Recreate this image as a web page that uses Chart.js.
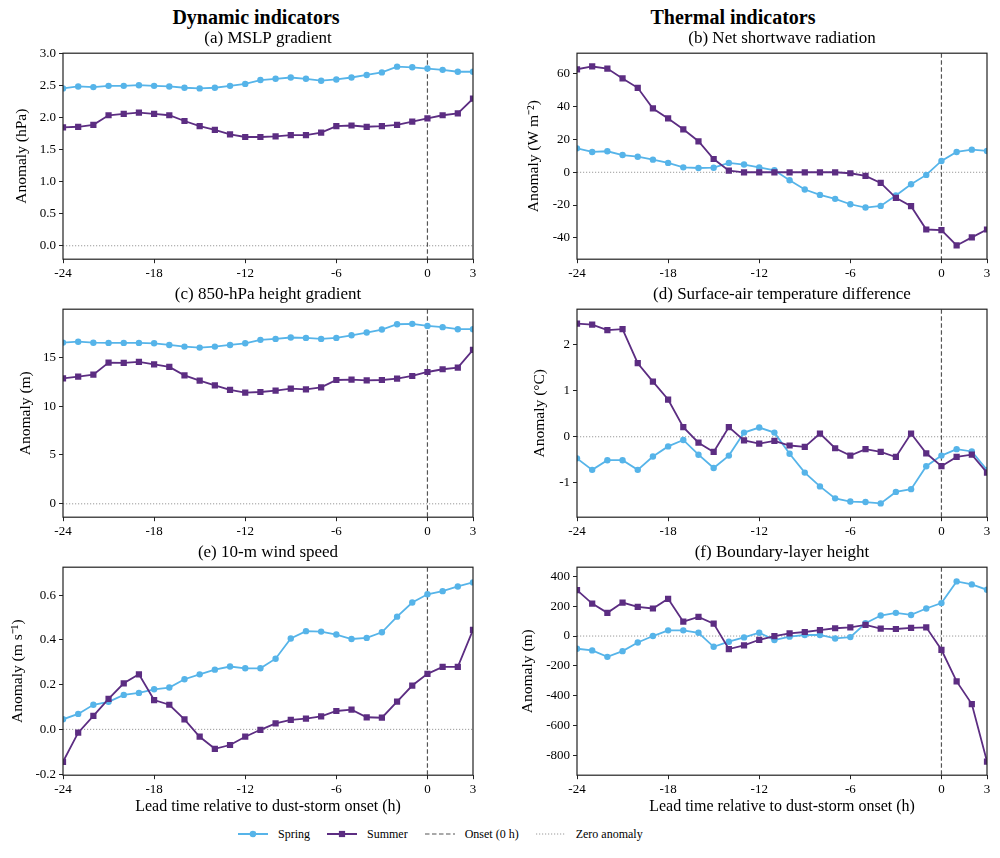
<!DOCTYPE html>
<html>
<head>
<meta charset="utf-8">
<title>Dust-storm precursor anomalies</title>
<script src="https://cdn.jsdelivr.net/npm/chart.js@4.4.1/dist/chart.umd.min.js"></script>
<style>
  body {
    margin: 0;
    width: 1000px;
    height: 858px;
    position: relative;
    overflow: hidden;
    background: #fff;
    color: #000;
    font-family: "Liberation Serif", "Times New Roman", serif;
  }
  .panel { position: absolute; }
  .header {
    position: absolute;
    top: 6px;
    font-size: 20px;
    line-height: 22px;
    font-weight: bold;
    white-space: nowrap;
    transform: translateX(-50%);
  }
  .legend {
    position: absolute;
    left: 238px;
    top: 825px;
    height: 18px;
    display: flex;
    align-items: center;
    font-size: 12px;
    white-space: nowrap;
  }
  .legend .item { display: flex; align-items: center; margin-right: 17px; }
  .legend svg { margin-right: 10px; }
</style>
</head>
<body>
<div class="header" style="left:256px">Dynamic indicators</div>
<div class="header" style="left:733px">Thermal indicators</div>

<div class="panel" id="boxA"><canvas id="chartA"></canvas></div>
<div class="panel" id="boxB"><canvas id="chartB"></canvas></div>
<div class="panel" id="boxC"><canvas id="chartC"></canvas></div>
<div class="panel" id="boxD"><canvas id="chartD"></canvas></div>
<div class="panel" id="boxE"><canvas id="chartE"></canvas></div>
<div class="panel" id="boxF"><canvas id="chartF"></canvas></div>

<div class="legend">
  <div class="item">
    <svg width="30" height="10"><line x1="0" y1="5" x2="30" y2="5" stroke="#56b4e9" stroke-width="2"/><circle cx="15" cy="5" r="3.3" fill="#56b4e9"/></svg>
    <span>Spring</span>
  </div>
  <div class="item">
    <svg width="30" height="10"><line x1="0" y1="5" x2="30" y2="5" stroke="#5c2d82" stroke-width="2"/><rect x="11.9" y="1.9" width="6.2" height="6.2" fill="#5c2d82"/></svg>
    <span>Summer</span>
  </div>
  <div class="item">
    <svg width="30" height="10"><line x1="0" y1="5" x2="30" y2="5" stroke="#555" stroke-width="1.2" stroke-dasharray="4.5,2.5"/></svg>
    <span>Onset (0 h)</span>
  </div>
  <div class="item">
    <svg width="30" height="10"><line x1="0" y1="5" x2="30" y2="5" stroke="#999" stroke-width="1" stroke-dasharray="1.2,1.8"/></svg>
    <span>Zero anomaly</span>
  </div>
</div>

<script>
// lead time (h) and axis ticks
const hours = [-24, -23, -22, -21, -20, -19, -18, -17, -16, -15, -14, -13, -12, -11,
               -10, -9, -8, -7, -6, -5, -4, -3, -2, -1, 0, 1, 2, 3];
const xTicks = [-24, -18, -12, -6, 0, 3];

// (a) MSLP gradient, hPa
const mslpSpring = [2.46, 2.49, 2.48, 2.50, 2.50, 2.51, 2.50, 2.49, 2.47, 2.46, 2.47, 2.50, 2.53, 2.59,
                    2.61, 2.63, 2.61, 2.58, 2.60, 2.63, 2.67, 2.71, 2.80, 2.79, 2.77, 2.75, 2.72, 2.72];
const mslpSummer = [1.85, 1.86, 1.89, 2.04, 2.06, 2.08, 2.06, 2.04, 1.95, 1.87, 1.81, 1.74, 1.70, 1.70,
                    1.71, 1.73, 1.73, 1.77, 1.87, 1.88, 1.86, 1.87, 1.89, 1.94, 1.99, 2.04, 2.07, 2.30];
const mslpTicks = [0, 0.5, 1.0, 1.5, 2.0, 2.5, 3.0];

// (b) net shortwave radiation, W m-2
const swSpring = [14.6, 12.4, 12.8, 10.5, 9.5, 7.7, 5.7, 3.0, 2.6, 2.8, 5.7, 4.7, 3.0, 1.2,
                  -4.9, -10.5, -13.8, -16.2, -19.5, -21.5, -20.5, -14.2, -7.3, -1.6, 6.9, 12.4, 13.8, 13.0];
const swSummer = [62.8, 64.5, 63.2, 57.2, 51.5, 38.9, 32.8, 26.2, 18.9, 8.1, 1.0, 0, 0, 0,
                  0, 0, 0, 0, -0.6, -2.2, -6.5, -15.6, -20.7, -34.9, -35.3, -44.6, -39.7, -34.9];
const swTicks = [-40, -20, 0, 20, 40, 60];

// (c) 850-hPa height gradient, m
const z850Spring = [16.51, 16.60, 16.50, 16.48, 16.48, 16.48, 16.44, 16.27, 16.10, 16.00, 16.10, 16.27, 16.44, 16.79,
                    16.89, 17.03, 16.99, 16.89, 16.99, 17.26, 17.54, 17.85, 18.39, 18.43, 18.22, 18.09, 17.88, 17.88];
const z850Summer = [12.85, 13.03, 13.23, 14.46, 14.43, 14.53, 14.29, 14.02, 13.16, 12.62, 12.14, 11.66, 11.38, 11.45,
                    11.59, 11.79, 11.73, 11.93, 12.68, 12.72, 12.65, 12.68, 12.82, 13.09, 13.50, 13.78, 13.95, 15.76];
const z850Ticks = [0, 5, 10, 15];

// (d) surface-air temperature difference, deg C
const dtSpring = [-0.47, -0.72, -0.51, -0.51, -0.72, -0.43, -0.21, -0.07, -0.39, -0.68, -0.41, 0.09, 0.20, 0.09,
                  -0.37, -0.78, -1.08, -1.34, -1.41, -1.42, -1.45, -1.20, -1.14, -0.64, -0.41, -0.27, -0.32, -0.72];
const dtSummer = [2.46, 2.44, 2.32, 2.34, 1.60, 1.20, 0.81, 0.21, -0.13, -0.33, 0.21, -0.08, -0.15, -0.09,
                  -0.19, -0.22, 0.07, -0.25, -0.41, -0.27, -0.33, -0.44, 0.07, -0.36, -0.64, -0.44, -0.39, -0.78];
const dtTicks = [-1, 0, 1, 2];

// (e) 10-m wind speed, m s-1
const wsSpring = [0.045, 0.069, 0.110, 0.123, 0.154, 0.163, 0.179, 0.187, 0.224, 0.246, 0.267, 0.281, 0.273, 0.273,
                  0.316, 0.406, 0.439, 0.437, 0.424, 0.404, 0.409, 0.434, 0.504, 0.567, 0.604, 0.618, 0.639, 0.657];
const wsSummer = [-0.145, -0.015, 0.060, 0.136, 0.206, 0.246, 0.131, 0.110, 0.045, -0.033, -0.087, -0.070, -0.033, -0.002,
                  0.027, 0.042, 0.048, 0.058, 0.082, 0.088, 0.054, 0.052, 0.124, 0.196, 0.248, 0.279, 0.279, 0.445];
const wsTicks = [-0.2, 0, 0.2, 0.4, 0.6];

// (f) boundary-layer height, m
const blhSpring = [-85, -96, -139, -101, -43, 0, 38, 38, 22, -72, -38, -9, 22, -27,
                   -4, 7, 7, -16, -7, 85, 137, 155, 141, 184, 220, 365, 345, 309];
const blhSummer = [307, 217, 155, 224, 195, 184, 249, 96, 128, 83, -87, -63, -25, 0,
                   18, 27, 40, 52, 58, 74, 49, 47, 54, 58, -92, -303, -455, -839];
const blhTicks = [-800, -600, -400, -200, 0, 200, 400];

const SPRING = '#56b4e9';
const SUMMER = '#5c2d82';
const FONT = '"Liberation Serif", "Times New Roman", serif';
const X_TITLE = 'Lead time relative to dust-storm onset (h)';
const TITLE_SIZE = 17;
const TITLE_PAD = 4.8;
const TITLE_H = TITLE_SIZE * 1.2 + TITLE_PAD;   // height of the subplot title box

Chart.defaults.font.family = FONT;
Chart.defaults.color = '#000';

// zero line + onset line under the data, full frame on top
const refLines = {
    id: 'refLines',
    beforeDatasetsDraw(chart) {
        const { ctx, chartArea: a, scales: { x, y } } = chart;
        ctx.save();
        ctx.beginPath();
        ctx.rect(a.left, a.top, a.width, a.height);
        ctx.clip();

        const y0 = y.getPixelForValue(0);
        ctx.strokeStyle = '#9a9a9a';
        ctx.lineWidth = 1;
        ctx.setLineDash([1.2, 1.8]);
        ctx.beginPath();
        ctx.moveTo(a.left, y0);
        ctx.lineTo(a.right, y0);
        ctx.stroke();

        const x0 = x.getPixelForValue(0);
        ctx.strokeStyle = '#555';
        ctx.lineWidth = 1.2;
        ctx.setLineDash([4.5, 2.5]);
        ctx.beginPath();
        ctx.moveTo(x0, a.top);
        ctx.lineTo(x0, a.bottom);
        ctx.stroke();
        ctx.restore();
    },
    afterDraw(chart) {
        const { ctx, chartArea: a } = chart;
        ctx.save();
        ctx.strokeStyle = '#222';
        ctx.lineWidth = 1.2;
        ctx.strokeRect(a.left, a.top, a.width, a.height);
        ctx.restore();
    }
};

const cols = [
    { left: 0, yW: 63, padR: 17 },
    { left: 500, yW: 77, padR: 13 }
];
const rows = [
    { top: 53, h: 206, xH: 22, xTitle: false },
    { top: 309, h: 208, xH: 22, xTitle: false },
    { top: 567, h: 208, xH: 44, xTitle: true }
];

const panels = [
    { key: 'A', col: 0, row: 0, title: '(a) MSLP gradient', yTitle: 'Anomaly (hPa)', titlePad: 14,
      spring: mslpSpring, summer: mslpSummer, ticks: mslpTicks, min: -0.21, max: 3.01, dec: 1 },
    { key: 'B', col: 1, row: 0, title: '(b) Net shortwave radiation', yTitle: 'Anomaly (W m\u207B\u00B2)', titlePad: 26,
      spring: swSpring, summer: swSummer, ticks: swTicks, min: -53, max: 72.6, dec: 0 },
    { key: 'C', col: 0, row: 1, title: '(c) 850-hPa height gradient', yTitle: 'Anomaly (m)', titlePad: 18,
      spring: z850Spring, summer: z850Summer, ticks: z850Ticks, min: -1.37, max: 19.93, dec: 0 },
    { key: 'D', col: 1, row: 1, title: '(d) Surface-air temperature difference', yTitle: 'Anomaly (\u00B0C)', titlePad: 32,
      spring: dtSpring, summer: dtSummer, ticks: dtTicks, min: -1.75, max: 2.775, dec: 0 },
    { key: 'E', col: 0, row: 2, title: '(e) 10-m wind speed', yTitle: 'Anomaly (m s\u207B\u00B9)', titlePad: 10,
      spring: wsSpring, summer: wsSummer, ticks: wsTicks, min: -0.205, max: 0.725, dec: 1 },
    { key: 'F', col: 1, row: 2, title: '(f) Boundary-layer height', yTitle: 'Anomaly (m)', titlePad: 20,
      spring: blhSpring, summer: blhSummer, ticks: blhTicks, min: -930, max: 460, dec: 0 }
];

const axisGrid = {
    drawOnChartArea: false,
    drawTicks: true,
    tickLength: 4,
    tickColor: '#222',
    lineWidth: 1
};

function buildPanel(p) {
    const col = cols[p.col];
    const row = rows[p.row];

    const box = document.getElementById('box' + p.key);
    box.style.left = col.left + 'px';
    box.style.top = (row.top - TITLE_H) + 'px';
    box.style.width = (col.yW + 410 + col.padR) + 'px';
    box.style.height = (TITLE_H + row.h + row.xH) + 'px';

    return new Chart(document.getElementById('chart' + p.key), {
        type: 'line',
        data: {
            labels: hours,
            datasets: [{
                label: 'Spring',
                data: p.spring,
                borderColor: SPRING,
                backgroundColor: SPRING,
                borderWidth: 1.8,
                pointStyle: 'circle',
                pointRadius: 3.2,
                pointBorderWidth: 0,
                tension: 0,
                order: 2
            }, {
                label: 'Summer',
                data: p.summer,
                borderColor: SUMMER,
                backgroundColor: SUMMER,
                borderWidth: 1.8,
                pointStyle: 'rect',
                pointRadius: 4.4,
                pointBorderWidth: 0,
                tension: 0,
                order: 1
            }]
        },
        options: {
            responsive: true,
            maintainAspectRatio: false,
            animation: false,
            events: [],
            layout: {
                padding: { left: 0, right: col.padR, top: 0, bottom: 0 }
            },
            plugins: {
                legend: { display: false },
                tooltip: { enabled: false },
                title: {
                    display: true,
                    text: p.title,
                    fullSize: false,
                    color: '#000',
                    font: { family: FONT, size: TITLE_SIZE, weight: 'normal' },
                    padding: { top: 0, bottom: TITLE_PAD }
                }
            },
            scales: {
                x: {
                    type: 'linear',
                    min: -24,
                    max: 3,
                    afterBuildTicks: s => { s.ticks = xTicks.map(v => ({ value: v })); },
                    afterFit: s => { s.height = row.xH; },
                    grid: axisGrid,
                    border: { display: false },
                    ticks: {
                        color: '#000',
                        font: { family: FONT, size: 13 },
                        padding: 3,
                        maxRotation: 0,
                        autoSkip: false,
                        callback: v => String(v)
                    },
                    title: {
                        display: row.xTitle,
                        text: X_TITLE,
                        color: '#000',
                        font: { family: FONT, size: 16 },
                        padding: { top: 0, bottom: 3 }
                    }
                },
                y: {
                    min: p.min,
                    max: p.max,
                    afterBuildTicks: s => { s.ticks = p.ticks.map(v => ({ value: v })); },
                    afterFit: s => { s.width = col.yW; },
                    grid: axisGrid,
                    border: { display: false },
                    ticks: {
                        color: '#000',
                        font: { family: FONT, size: 13 },
                        padding: 3,
                        callback: v => v.toFixed(p.dec)
                    },
                    title: {
                        display: true,
                        text: p.yTitle,
                        color: '#000',
                        font: { family: FONT, size: 15.5 },
                        padding: { top: p.titlePad - 1, bottom: 0 }
                    }
                }
            }
        },
        plugins: [refLines]
    });
}

panels.forEach(buildPanel);
</script>
</body>
</html>
